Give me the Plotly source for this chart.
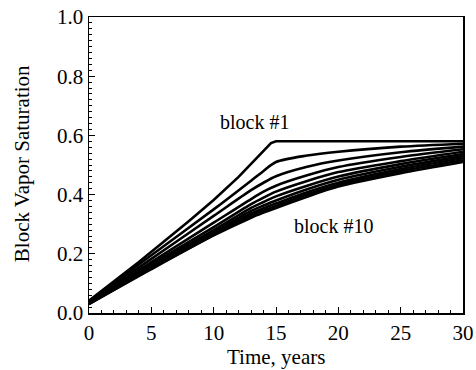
import plotly.graph_objects as go

time_block1 = [0, 4, 8, 10, 12, 13, 14, 14.6, 15, 20, 25, 30]
block_01 = [0.042, 0.172, 0.310, 0.382, 0.460, 0.503, 0.549, 0.574, 0.580, 0.580, 0.580, 0.580]

time_years = [0, 5, 10, 13, 14, 15, 17.5, 20, 25, 30]
block_02 = [0.040, 0.195, 0.350, 0.447, 0.480, 0.510, 0.532, 0.545, 0.562, 0.572]
block_03 = [0.038, 0.183, 0.328, 0.415, 0.440, 0.462, 0.494, 0.515, 0.543, 0.562]
block_04 = [0.036, 0.172, 0.305, 0.385, 0.410, 0.430, 0.465, 0.493, 0.527, 0.553]
block_05 = [0.035, 0.165, 0.290, 0.368, 0.390, 0.410, 0.446, 0.476, 0.513, 0.545]
block_06 = [0.034, 0.160, 0.280, 0.355, 0.375, 0.394, 0.430, 0.461, 0.503, 0.537]
block_07 = [0.033, 0.156, 0.273, 0.345, 0.363, 0.380, 0.418, 0.450, 0.494, 0.530]
block_08 = [0.032, 0.152, 0.267, 0.336, 0.354, 0.370, 0.408, 0.440, 0.486, 0.523]
block_09 = [0.031, 0.150, 0.264, 0.329, 0.346, 0.362, 0.400, 0.433, 0.479, 0.516]
block_10 = [0.030, 0.148, 0.262, 0.322, 0.339, 0.355, 0.393, 0.427, 0.472, 0.510]

other_blocks = [block_02, block_03, block_04, block_05, block_06,
                block_07, block_08, block_09, block_10]

font_family = "Liberation Serif"

fig = go.Figure()
fig.add_trace(go.Scatter(
    x=time_block1, y=block_01, mode="lines",
    line=dict(color="black", width=2.6),
    showlegend=False,
))
for b in other_blocks:
    fig.add_trace(go.Scatter(
        x=time_years, y=b, mode="lines",
        line=dict(color="black", width=2.6, shape="spline", smoothing=0.8),
        showlegend=False,
    ))

fig.add_annotation(x=13.3, y=0.645, text="block #1", showarrow=False,
                   font=dict(family=font_family, size=20, color="black"))
fig.add_annotation(x=19.6, y=0.294, text="block #10", showarrow=False,
                   font=dict(family=font_family, size=20, color="black"))

# axis titles as text placed relative to the plotting area
fig.add_annotation(xref="paper", yref="paper", x=0.5, y=-0.148,
                   text="Time, years", showarrow=False,
                   xanchor="center", yanchor="middle",
                   font=dict(family=font_family, size=21, color="black"))
fig.add_annotation(xref="paper", yref="paper", x=-0.179, y=0.503,
                   text="Block Vapor Saturation", showarrow=False, textangle=-90,
                   xanchor="center", yanchor="middle",
                   font=dict(family=font_family, size=21, color="black"))

axis_common = dict(
    showline=True, linecolor="black", linewidth=1.5, mirror=True,
    ticks="inside", ticklen=6, tickwidth=1, tickcolor="black",
    showgrid=False, zeroline=False, automargin=False,
    tickfont=dict(family=font_family, size=21, color="black"),
)

fig.update_xaxes(
    range=[0, 30], tick0=0, dtick=5,
    minor=dict(ticks="inside", ticklen=3, dtick=1, tickcolor="black", showgrid=False),
    **axis_common,
)
fig.update_yaxes(
    range=[0, 1.0], tick0=0, dtick=0.2, tickformat=".1f",
    minor=dict(ticks="inside", ticklen=3, dtick=0.02, tickcolor="black", showgrid=False),
    **axis_common,
)

fig.update_layout(
    width=476, height=370,
    margin=dict(l=89, r=13, t=17, b=57),
    paper_bgcolor="white", plot_bgcolor="white",
)

fig.write_html("out.html", config={"displayModeBar": False, "staticPlot": True},
               post_script="document.body.style.margin='0';")
